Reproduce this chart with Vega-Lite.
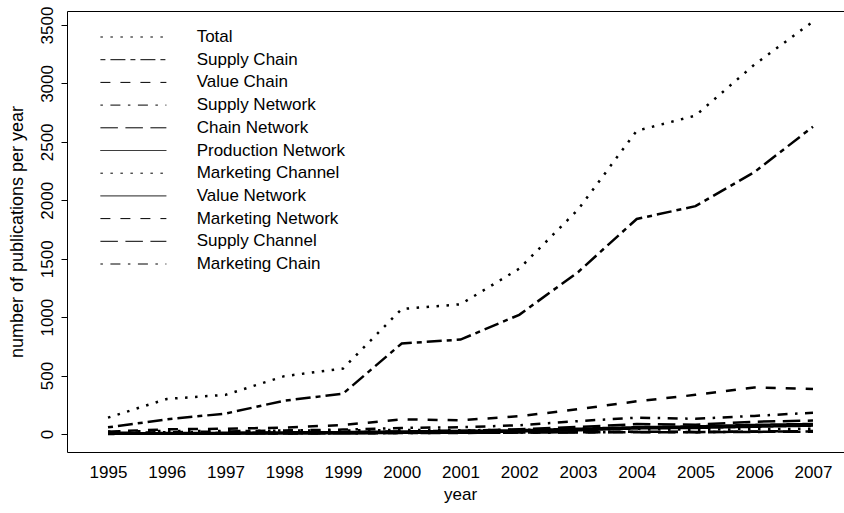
{
  "$schema": "https://vega.github.io/schema/vega-lite/v6.json",
  "width": 778,
  "height": 441,
  "autosize": {"type": "none"},
  "padding": {"left": 67, "top": 11, "right": 0, "bottom": 61},
  "background": "white",
  "config": {
    "font": "Liberation Sans",
    "view": {"stroke": "black", "strokeWidth": 1},
    "axis": {"labelFont": "Liberation Sans", "titleFont": "Liberation Sans", "labelColor": "black", "titleColor": "black", "labelFontSize": 17, "titleFontSize": 17, "titleFontWeight": "normal", "grid": false, "domain": false, "tickColor": "black"},
    "legend": {"labelFont": "Liberation Sans", "labelColor": "black", "labelFontSize": 17}
  },
  "data": {"values": [
    {"series":"Total","year":1995,"value":140},{"series":"Total","year":1996,"value":300},{"series":"Total","year":1997,"value":335},{"series":"Total","year":1998,"value":495},{"series":"Total","year":1999,"value":560},{"series":"Total","year":2000,"value":1070},{"series":"Total","year":2001,"value":1110},{"series":"Total","year":2002,"value":1415},{"series":"Total","year":2003,"value":1920},{"series":"Total","year":2004,"value":2595},{"series":"Total","year":2005,"value":2725},{"series":"Total","year":2006,"value":3160},{"series":"Total","year":2007,"value":3530},
    {"series":"Supply Chain","year":1995,"value":57},{"series":"Supply Chain","year":1996,"value":125},{"series":"Supply Chain","year":1997,"value":175},{"series":"Supply Chain","year":1998,"value":285},{"series":"Supply Chain","year":1999,"value":345},{"series":"Supply Chain","year":2000,"value":775},{"series":"Supply Chain","year":2001,"value":808},{"series":"Supply Chain","year":2002,"value":1020},{"series":"Supply Chain","year":2003,"value":1385},{"series":"Supply Chain","year":2004,"value":1840},{"series":"Supply Chain","year":2005,"value":1950},{"series":"Supply Chain","year":2006,"value":2240},{"series":"Supply Chain","year":2007,"value":2630},
    {"series":"Value Chain","year":1995,"value":20},{"series":"Value Chain","year":1996,"value":40},{"series":"Value Chain","year":1997,"value":45},{"series":"Value Chain","year":1998,"value":55},{"series":"Value Chain","year":1999,"value":77},{"series":"Value Chain","year":2000,"value":125},{"series":"Value Chain","year":2001,"value":118},{"series":"Value Chain","year":2002,"value":152},{"series":"Value Chain","year":2003,"value":212},{"series":"Value Chain","year":2004,"value":280},{"series":"Value Chain","year":2005,"value":335},{"series":"Value Chain","year":2006,"value":398},{"series":"Value Chain","year":2007,"value":385},
    {"series":"Supply Network","year":1995,"value":10},{"series":"Supply Network","year":1996,"value":15},{"series":"Supply Network","year":1997,"value":22},{"series":"Supply Network","year":1998,"value":30},{"series":"Supply Network","year":1999,"value":38},{"series":"Supply Network","year":2000,"value":52},{"series":"Supply Network","year":2001,"value":58},{"series":"Supply Network","year":2002,"value":75},{"series":"Supply Network","year":2003,"value":110},{"series":"Supply Network","year":2004,"value":140},{"series":"Supply Network","year":2005,"value":130},{"series":"Supply Network","year":2006,"value":155},{"series":"Supply Network","year":2007,"value":182},
    {"series":"Chain Network","year":1995,"value":3},{"series":"Chain Network","year":1996,"value":6},{"series":"Chain Network","year":1997,"value":8},{"series":"Chain Network","year":1998,"value":12},{"series":"Chain Network","year":1999,"value":15},{"series":"Chain Network","year":2000,"value":22},{"series":"Chain Network","year":2001,"value":28},{"series":"Chain Network","year":2002,"value":40},{"series":"Chain Network","year":2003,"value":60},{"series":"Chain Network","year":2004,"value":85},{"series":"Chain Network","year":2005,"value":80},{"series":"Chain Network","year":2006,"value":105},{"series":"Chain Network","year":2007,"value":115},
    {"series":"Production Network","year":1995,"value":5},{"series":"Production Network","year":1996,"value":8},{"series":"Production Network","year":1997,"value":10},{"series":"Production Network","year":1998,"value":14},{"series":"Production Network","year":1999,"value":16},{"series":"Production Network","year":2000,"value":22},{"series":"Production Network","year":2001,"value":26},{"series":"Production Network","year":2002,"value":32},{"series":"Production Network","year":2003,"value":45},{"series":"Production Network","year":2004,"value":58},{"series":"Production Network","year":2005,"value":65},{"series":"Production Network","year":2006,"value":78},{"series":"Production Network","year":2007,"value":86},
    {"series":"Marketing Channel","year":1995,"value":22},{"series":"Marketing Channel","year":1996,"value":26},{"series":"Marketing Channel","year":1997,"value":25},{"series":"Marketing Channel","year":1998,"value":30},{"series":"Marketing Channel","year":1999,"value":30},{"series":"Marketing Channel","year":2000,"value":35},{"series":"Marketing Channel","year":2001,"value":32},{"series":"Marketing Channel","year":2002,"value":36},{"series":"Marketing Channel","year":2003,"value":40},{"series":"Marketing Channel","year":2004,"value":42},{"series":"Marketing Channel","year":2005,"value":36},{"series":"Marketing Channel","year":2006,"value":42},{"series":"Marketing Channel","year":2007,"value":45},
    {"series":"Value Network","year":1995,"value":1},{"series":"Value Network","year":1996,"value":2},{"series":"Value Network","year":1997,"value":3},{"series":"Value Network","year":1998,"value":4},{"series":"Value Network","year":1999,"value":6},{"series":"Value Network","year":2000,"value":10},{"series":"Value Network","year":2001,"value":14},{"series":"Value Network","year":2002,"value":22},{"series":"Value Network","year":2003,"value":32},{"series":"Value Network","year":2004,"value":48},{"series":"Value Network","year":2005,"value":52},{"series":"Value Network","year":2006,"value":62},{"series":"Value Network","year":2007,"value":72},
    {"series":"Marketing Network","year":1995,"value":2},{"series":"Marketing Network","year":1996,"value":3},{"series":"Marketing Network","year":1997,"value":4},{"series":"Marketing Network","year":1998,"value":5},{"series":"Marketing Network","year":1999,"value":6},{"series":"Marketing Network","year":2000,"value":8},{"series":"Marketing Network","year":2001,"value":9},{"series":"Marketing Network","year":2002,"value":12},{"series":"Marketing Network","year":2003,"value":15},{"series":"Marketing Network","year":2004,"value":20},{"series":"Marketing Network","year":2005,"value":18},{"series":"Marketing Network","year":2006,"value":22},{"series":"Marketing Network","year":2007,"value":25},
    {"series":"Supply Channel","year":1995,"value":4},{"series":"Supply Channel","year":1996,"value":6},{"series":"Supply Channel","year":1997,"value":6},{"series":"Supply Channel","year":1998,"value":8},{"series":"Supply Channel","year":1999,"value":8},{"series":"Supply Channel","year":2000,"value":10},{"series":"Supply Channel","year":2001,"value":10},{"series":"Supply Channel","year":2002,"value":12},{"series":"Supply Channel","year":2003,"value":14},{"series":"Supply Channel","year":2004,"value":16},{"series":"Supply Channel","year":2005,"value":15},{"series":"Supply Channel","year":2006,"value":18},{"series":"Supply Channel","year":2007,"value":20},
    {"series":"Marketing Chain","year":1995,"value":3},{"series":"Marketing Chain","year":1996,"value":4},{"series":"Marketing Chain","year":1997,"value":5},{"series":"Marketing Chain","year":1998,"value":6},{"series":"Marketing Chain","year":1999,"value":7},{"series":"Marketing Chain","year":2000,"value":9},{"series":"Marketing Chain","year":2001,"value":10},{"series":"Marketing Chain","year":2002,"value":12},{"series":"Marketing Chain","year":2003,"value":14},{"series":"Marketing Chain","year":2004,"value":18},{"series":"Marketing Chain","year":2005,"value":16},{"series":"Marketing Chain","year":2006,"value":20},{"series":"Marketing Chain","year":2007,"value":22}
  ]},
  "mark": {"type": "line", "color": "black", "strokeWidth": 2.5, "strokeCap": "butt"},
  "encoding": {
    "x": {
      "field": "year", "type": "quantitative",
      "scale": {"domain": [1994.302, 2007.545], "nice": false, "zero": false},
      "axis": {"values": [1995,1996,1997,1998,1999,2000,2001,2002,2003,2004,2005,2006,2007], "format": "d", "ticks": false, "labelPadding": 12, "title": "year", "titlePadding": 6, "titleX": 393, "labelFlush": false, "labelOverlap": false}
    },
    "y": {
      "field": "value", "type": "quantitative",
      "scale": {"domain": [-154, 3620], "nice": false, "zero": false},
      "axis": {"values": [0,500,1000,1500,2000,2500,3000,3500], "format": "d", "tickSize": 6, "labelAngle": -90, "labelAlign": "center", "labelBaseline": "bottom", "labelPadding": 5, "title": "number of publications per year", "titleFontSize": 18, "titlePadding": 12, "labelFlush": false, "labelOverlap": false}
    },
    "strokeDash": {
      "field": "series", "type": "nominal",
      "scale": {
        "domain": ["Total","Supply Chain","Value Chain","Supply Network","Chain Network","Production Network","Marketing Channel","Value Network","Marketing Network","Supply Channel","Marketing Chain"],
        "range": [[2.5,7.5],[5,5,15,5],[10,10],[2.5,7.5,10,7.5],[17.5,7.5],[1,0],[2.5,7.5],[1,0],[10,10],[17.5,7.5],[2.5,7.5,10,7.5]]
      },
      "legend": {
        "title": null, "orient": "none", "legendX": 31, "legendY": 17.5, "padding": 0,
        "symbolType": "M-8,0H8", "symbolSize": 68, "symbolStrokeWidth": 1, "symbolStrokeColor": "black",
        "symbolOffset": 26.9, "labelOffset": 54.75, "rowPadding": 4.7, "labelFontSize": 17, "labelLimit": 400,
        "encode": {"symbols": {"update": {"strokeDash": {"signal": "indexof(['Total','Marketing Channel'], datum.value) >= 0 ? [1,3] : indexof(['Value Chain','Marketing Network'], datum.value) >= 0 ? [4,4] : indexof(['Supply Network','Marketing Chain'], datum.value) >= 0 ? [1,3,4,3] : indexof(['Chain Network','Supply Channel'], datum.value) >= 0 ? [7,3] : datum.value === 'Supply Chain' ? [2,2,6,2] : [1,0]"}}}}
      }
    }
  }
}
